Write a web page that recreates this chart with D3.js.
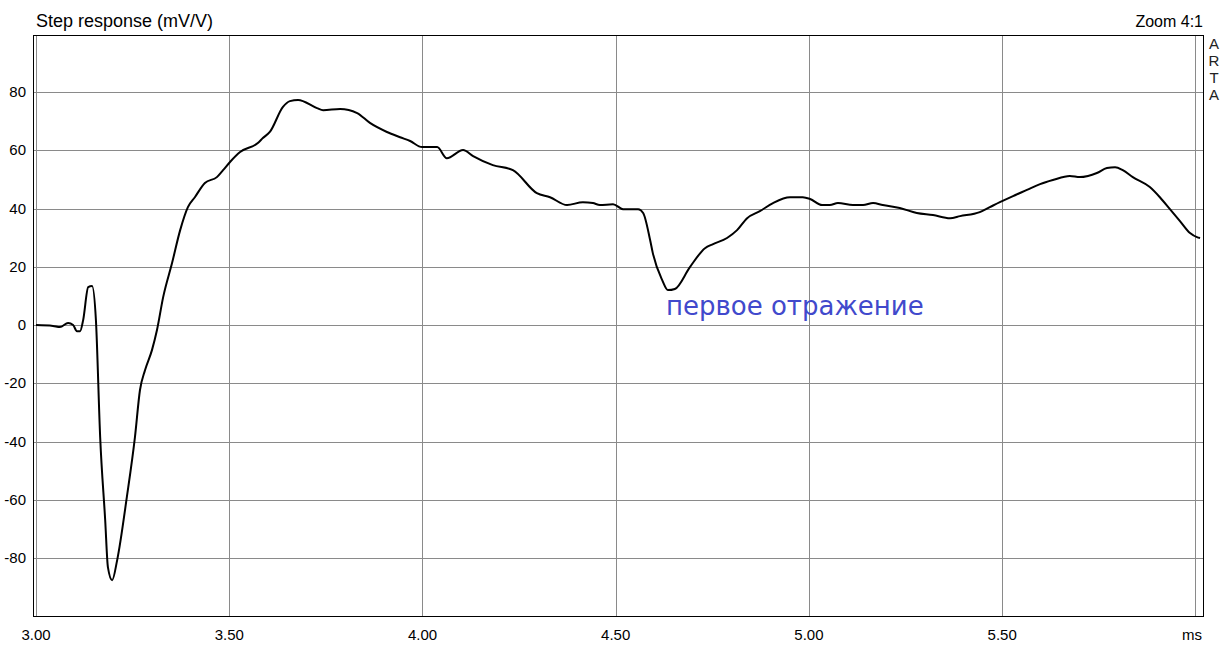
<!DOCTYPE html>
<html>
<head>
<meta charset="utf-8">
<script src="https://cdn.jsdelivr.net/npm/d3@7"></script>
<style>
  html, body { margin: 0; padding: 0; background: #fff; }
  svg { display: block; font-family: "Liberation Sans", Arial, sans-serif; }
</style>
</head>
<body>
<svg id="chart" width="1227" height="648"></svg>
<script>
'use strict'

// step response (ms, mV/V)
const timeMs = [
  3.000, 3.044, 3.062, 3.083, 3.096, 3.106, 3.114, 3.122, 3.135, 3.145,
  3.155, 3.166, 3.179, 3.186, 3.197, 3.210, 3.235, 3.256, 3.269, 3.282,
  3.300, 3.313, 3.329, 3.352, 3.373, 3.393, 3.411, 3.437, 3.468, 3.484,
  3.502, 3.528, 3.574, 3.587, 3.605, 3.639, 3.657, 3.678, 3.727, 3.743,
  3.787, 3.831, 3.864, 3.908, 3.942, 3.968, 3.999, 4.038, 4.063, 4.105,
  4.131, 4.182, 4.234, 4.296, 4.330, 4.374, 4.415, 4.441, 4.459, 4.493,
  4.519, 4.558, 4.571, 4.589, 4.596, 4.620, 4.635, 4.653, 4.692, 4.731,
  4.752, 4.788, 4.814, 4.840, 4.873, 4.907, 4.951, 4.984, 5.003, 5.034,
  5.054, 5.075, 5.114, 5.140, 5.166, 5.191, 5.235, 5.279, 5.321, 5.365,
  5.391, 5.442, 5.468, 5.494, 5.528, 5.564, 5.598, 5.631, 5.675, 5.701,
  5.722, 5.745, 5.771, 5.792, 5.812, 5.838, 5.882, 5.908, 5.934, 5.960,
  5.986, 6.004, 6.012
]
const stepMv = [
  0.0, -0.3, -0.7, 0.7, 0.0, -2.1, -2.1, 1.7, 13.0, 13.4,
  1.7, -38.5, -67.0, -83.1, -87.6, -80.7, -59.1, -38.5, -22.3, -15.5,
  -8.6, -1.7, 9.6, 21.3, 32.6, 40.5, 43.9, 48.8, 50.8, 53.2,
  56.0, 59.4, 62.5, 64.2, 66.3, 74.9, 76.9, 77.3, 74.5, 73.8,
  74.2, 72.8, 69.4, 66.3, 64.5, 63.2, 61.1, 61.1, 57.3, 60.1,
  58.0, 54.9, 53.2, 45.3, 43.9, 41.2, 42.2, 41.9, 41.2, 41.5,
  39.8, 39.8, 38.5, 29.2, 24.7, 15.5, 12.0, 12.4, 19.9, 26.4,
  27.8, 29.9, 32.6, 36.7, 39.1, 41.9, 43.9, 43.9, 43.3, 41.2,
  41.2, 41.9, 41.2, 41.2, 41.9, 41.2, 40.2, 38.5, 37.8, 36.7,
  37.4, 38.8, 40.5, 42.2, 44.3, 46.4, 48.4, 49.8, 51.2, 50.8,
  51.2, 52.2, 53.9, 54.2, 53.2, 50.8, 47.4, 43.9, 39.8, 35.7,
  31.6, 30.2, 29.9
]

const xTicks = [3.0, 3.5, 4.0, 4.5, 5.0, 5.5, 6.0]
const xTickLabels = ['3.00', '3.50', '4.00', '4.50', '5.00', '5.50', '']
const yTicks = [-80, -60, -40, -20, 0, 20, 40, 60, 80]

const titleText = 'Step response (mV/V)'
const zoomText = 'Zoom 4:1'
const brandLetters = ['A', 'R', 'T', 'A']
const noteText = 'первое отражение'
const noteAt = [4.63, 3.5]

const svg = d3.select('#chart')
const margin = { left: 33, right: 24, top: 35, bottom: 32 }
const W = 1227
const H = 648

const x = d3.scaleLinear()
  .domain([2.9922, 6.0196])
  .range([margin.left, W - margin.right])
const y = d3.scaleLinear()
  .domain([-99.9, 99.6])
  .range([H - margin.bottom, margin.top])

const g = svg.append('g')

// grid
g.append('g')
  .selectAll('line')
  .data(xTicks)
  .join('line')
  .attr('x1', (d) => Math.round(x(d)) + 0.5)
  .attr('x2', (d) => Math.round(x(d)) + 0.5)
  .attr('y1', y.range()[1])
  .attr('y2', y.range()[0])
  .attr('stroke', '#8a8a8a')
  .attr('stroke-width', 1)

g.append('g')
  .selectAll('line')
  .data(yTicks)
  .join('line')
  .attr('x1', x.range()[0])
  .attr('x2', x.range()[1])
  .attr('y1', (d) => Math.round(y(d)) + 0.5)
  .attr('y2', (d) => Math.round(y(d)) + 0.5)
  .attr('stroke', '#8a8a8a')
  .attr('stroke-width', 1)

// frame
g.append('rect')
  .attr('x', x.range()[0] + 0.5)
  .attr('y', y.range()[1] + 0.5)
  .attr('width', x.range()[1] - x.range()[0])
  .attr('height', y.range()[0] - y.range()[1])
  .attr('fill', 'none')
  .attr('stroke', '#000')
  .attr('stroke-width', 1)

// tick labels
g.append('g')
  .selectAll('text')
  .data(yTicks)
  .join('text')
  .attr('x', 26)
  .attr('y', (d) => y(d) + 5)
  .attr('text-anchor', 'end')
  .attr('font-size', 15)
  .attr('fill', '#000')
  .text((d) => d)

g.append('g')
  .selectAll('text')
  .data(xTicks)
  .join('text')
  .attr('x', (d) => x(d))
  .attr('y', 640)
  .attr('text-anchor', 'middle')
  .attr('font-size', 15)
  .attr('fill', '#000')
  .text((d, i) => xTickLabels[i])

g.append('text')
  .attr('x', 1202)
  .attr('y', 640)
  .attr('text-anchor', 'end')
  .attr('font-size', 15)
  .text('ms')

// titles
svg.append('text')
  .attr('x', 36)
  .attr('y', 27)
  .attr('font-size', 18)
  .text(titleText)

svg.append('text')
  .attr('x', 1203)
  .attr('y', 27)
  .attr('text-anchor', 'end')
  .attr('font-size', 16)
  .text(zoomText)

svg.append('g')
  .selectAll('text')
  .data(brandLetters)
  .join('text')
  .attr('x', 1214)
  .attr('y', (d, i) => 49 + i * 17)
  .attr('text-anchor', 'middle')
  .attr('font-size', 15)
  .attr('fill', '#222')
  .text((d) => d)

// response curve
const points = timeMs.map((t, i) => [t, stepMv[i]])
const line = d3.line()
  .x((d) => x(d[0]))
  .y((d) => y(d[1]))
  .curve(d3.curveMonotoneX)

g.append('path')
  .datum(points)
  .attr('d', line)
  .attr('fill', 'none')
  .attr('stroke', '#000')
  .attr('stroke-width', 2)
  .attr('stroke-linejoin', 'round')

// annotation
svg.append('text')
  .attr('x', x(noteAt[0]))
  .attr('y', y(noteAt[1]))
  .attr('font-family', '"DejaVu Sans", sans-serif')
  .attr('font-size', 26)
  .attr('fill', '#4149cc')
  .text(noteText)
</script>
</body>
</html>
